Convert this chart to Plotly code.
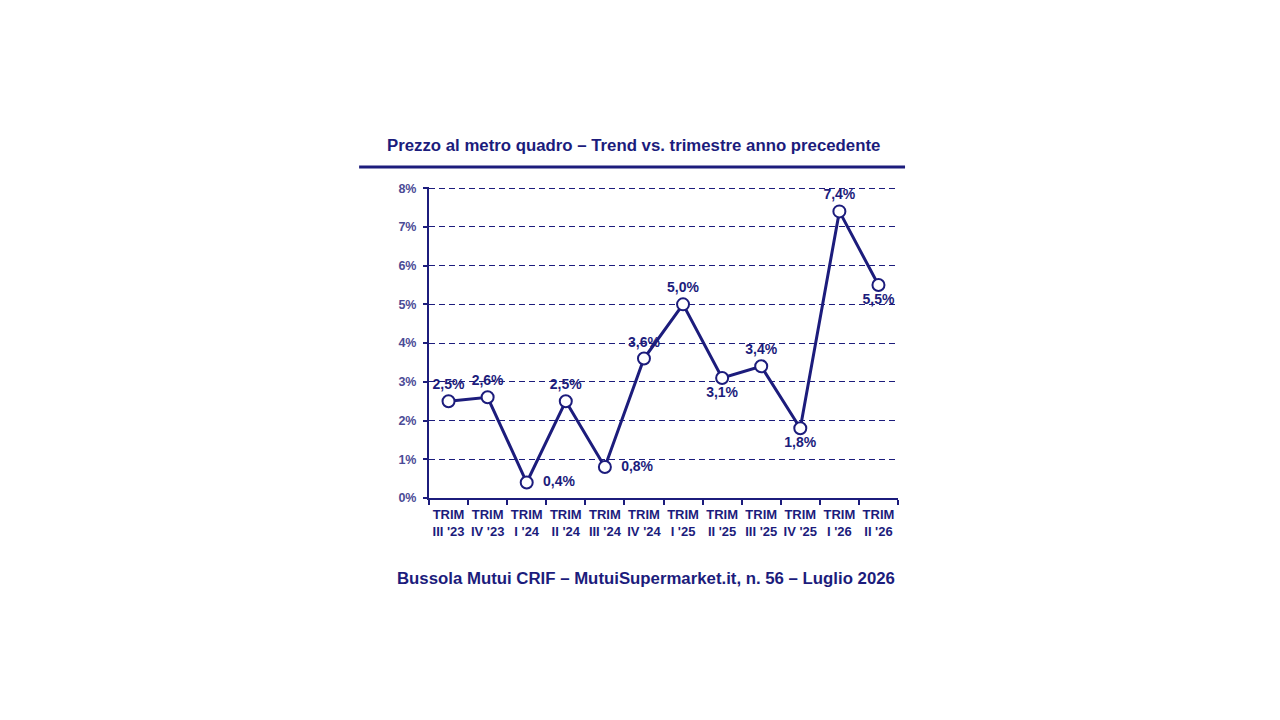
import plotly.graph_objects as go

##############################
# Data
##############################

quarters = ["TRIM<br>III '23", "TRIM<br>IV '23", "TRIM<br>I '24", "TRIM<br>II '24",
            "TRIM<br>III '24", "TRIM<br>IV '24", "TRIM<br>I '25", "TRIM<br>II '25",
            "TRIM<br>III '25", "TRIM<br>IV '25", "TRIM<br>I '26", "TRIM<br>II '26"]
trend = [2.5, 2.6, 0.4, 2.5, 0.8, 3.6, 5.0, 3.1, 3.4, 1.8, 7.4, 5.5]
labels = ["2,5%", "2,6%", "  0,4%", "2,5%", "  0,8%", "3,6%", "5,0%", "3,1%", "3,4%", "1,8%", "7,4%", "5,5%"]
label_pos = ["top center", "top center", "middle right", "top center", "middle right", "top center",
             "top center", "bottom center", "top center", "bottom center", "top center", "bottom center"]
y_ticks = [0, 1, 2, 3, 4, 5, 6, 7, 8]
y_tick_text = ["0%", "1%", "2%", "3%", "4%", "5%", "6%", "7%", "8%"]

navy = "#1c1c7c"
tick_col = "#4b4b96"

fig = go.Figure()
fig.add_trace(go.Scatter(
    x=quarters, y=trend, mode="lines+markers+text",
    text=labels, textposition=label_pos,
    textfont={"family": "Liberation Sans", "size": 14, "color": navy, "weight": "bold"},
    line={"color": navy, "width": 3},
    marker={"size": 12, "color": "white", "line": {"color": navy, "width": 2}},
    cliponaxis=False, hoverinfo="skip"))

fig.update_layout(
    width=1280, height=720,
    paper_bgcolor="white", plot_bgcolor="white",
    margin={"l": 421, "r": 390, "t": 179, "b": 230},
    showlegend=False,
    font={"family": "Liberation Sans", "color": navy},
)

fig.update_xaxes(
    range=[-0.5, 11.5],
    showline=True, linecolor=navy, linewidth=2,
    ticks="outside", tickson="boundaries", ticklen=5, tickcolor=navy, tickwidth=2,
    showgrid=False, tickangle=0, ticklabelstandoff=3,
    tickfont={"size": 13, "color": navy, "weight": "bold"},
)
fig.update_yaxes(
    range=[0, 8.03], tickvals=y_ticks, ticktext=y_tick_text,
    showline=True, linecolor=navy, linewidth=2,
    ticks="outside", ticklen=4, tickcolor=navy, tickwidth=2,
    showgrid=True, gridcolor=navy, griddash="6px,4px", gridwidth=1.3,
    zeroline=False, ticklabelstandoff=4,
    tickfont={"size": 12.5, "color": tick_col, "weight": "bold"},
)

# title, rule and source line
fig.add_annotation(text="Prezzo al metro quadro – Trend vs. trimestre anno precedente",
                   xref="paper", yref="paper", x=0.435, y=1.0, yshift=42, showarrow=False,
                   xanchor="center", yanchor="middle",
                   font={"size": 16.8, "color": navy, "weight": "bold"})
fig.add_shape(type="line", xref="paper", yref="paper", x0=-0.149, x1=1.015,
              y0=1.064, y1=1.064, line={"color": navy, "width": 3})
fig.add_annotation(text="Bussola Mutui CRIF – MutuiSupermarket.it, n. 56 – Luglio 2026",
                   xref="paper", yref="paper", x=0.463, y=0, yshift=-80, showarrow=False,
                   xanchor="center", yanchor="middle",
                   font={"size": 16.8, "color": navy, "weight": "bold"})

fig.write_html("out.html")
